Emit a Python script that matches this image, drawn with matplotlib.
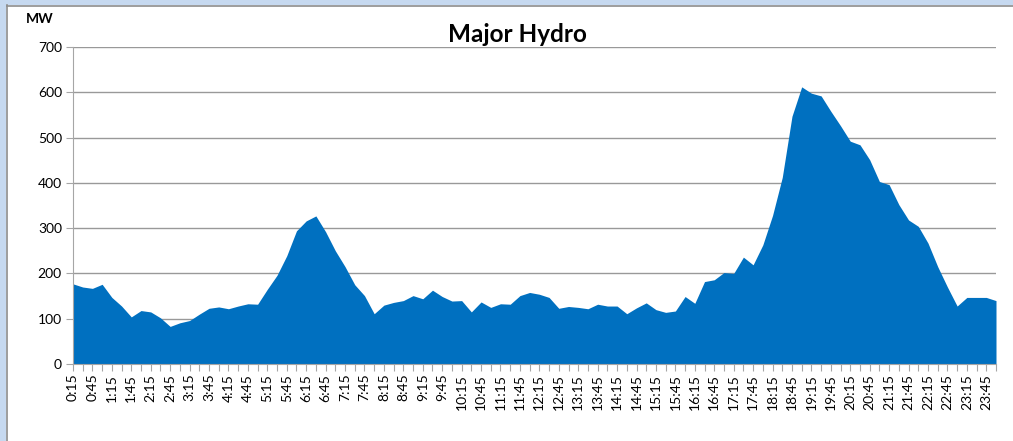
import numpy as np
import matplotlib.pyplot as plt
from matplotlib.patches import Rectangle

# 15-minute intervals, 0:15 through 24:00 (shown as 0:00)
times = [f"{(m // 60) % 24}:{m % 60:02d}" for m in range(15, 24 * 60 + 1, 15)]

# Major Hydro output (MW)
mw = [177, 170, 167, 176, 147, 128, 104, 118, 115, 102,
      83, 91, 96, 110, 123, 126, 122, 128, 133, 132,
      165, 196, 239, 294, 316, 327, 292, 250, 215, 175,
      151, 111, 130, 136, 140, 151, 144, 163, 149, 139,
      140, 115, 137, 125, 133, 132, 151, 158, 154, 147,
      123, 127, 125, 122, 132, 128, 128, 111, 124, 135,
      120, 114, 117, 149, 134, 182, 186, 202, 200, 236,
      219, 263, 328, 412, 547, 612, 598, 592, 558, 526,
      492, 484, 451, 403, 396, 352, 318, 304, 267, 215,
      170, 128, 147, 147, 147, 140]

plt.rcParams['font.family'] = ['Lato', 'DejaVu Sans']

fig = plt.figure(figsize=(10.13, 4.41), dpi=100)
fig.patch.set_facecolor('white')

# light blue frame strip and grey chart-area border (top and left)
fig.patches.append(Rectangle((0, 0), 6 / 1013, 1, transform=fig.transFigure,
                             facecolor='#C6D9F0', edgecolor='none', zorder=0))
fig.patches.append(Rectangle((0, 1 - 5 / 441), 1, 5 / 441, transform=fig.transFigure,
                             facecolor='#C6D9F0', edgecolor='none', zorder=0))
fig.add_artist(plt.Line2D([6.5 / 1013, 6.5 / 1013], [0, 1 - 5 / 441], color='#8C8C8C', lw=1.2))
fig.add_artist(plt.Line2D([6.5 / 1013, 1], [1 - 5.5 / 441, 1 - 5.5 / 441], color='#8C8C8C', lw=1.2))

ax = fig.add_axes([73 / 1013, 77 / 441, (996 - 73) / 1013, (364 - 47) / 441])

x = np.arange(len(mw))
ax.fill_between(x, mw, 0, color='#0070C0', linewidth=0)

ax.set_xlim(0, len(mw) - 1)
ax.set_ylim(0, 700)
ax.set_yticks(range(0, 701, 100))
ax.yaxis.grid(True, color='#999999', linewidth=1)
ax.set_axisbelow(True)

ax.set_xticks(x)
ax.set_xticklabels([t if i % 2 == 0 else '' for i, t in enumerate(times)],
                   rotation=90, fontsize=10)
ax.tick_params(axis='x', length=5, color='#A6A6A6', pad=2)
ax.tick_params(axis='y', length=5, color='#A6A6A6', labelsize=10, pad=3)

for side in ['top', 'right']:
    ax.spines[side].set_visible(False)
ax.spines['left'].set_color('#A6A6A6')
ax.spines['bottom'].set_color('#A6A6A6')

fig.text(517 / 1013, 1 - 35 / 441, 'Major Hydro', ha='center', va='center',
         fontsize=17.5, fontweight='bold')
fig.text(40 / 1013, 1 - 19 / 441, 'MW', ha='center', va='center',
         fontsize=10, fontweight='bold')

fig.savefig('out.png', dpi=100)
